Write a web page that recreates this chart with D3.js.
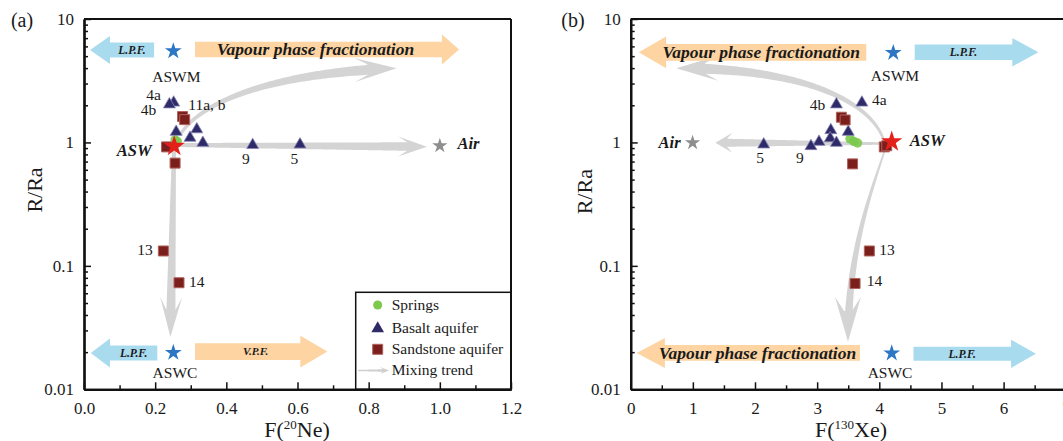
<!DOCTYPE html>
<html>
<head>
<meta charset="utf-8">
<script src="https://cdn.jsdelivr.net/npm/d3@7"></script>
<style>
  svg text { font-family: "Liberation Serif"; }
</style>
</head>
<body style="margin:0">
<svg id="chart" width="1063" height="441" font-family="Liberation Serif"></svg>
<script>
// ---------------- data ----------------
const groups = ["Springs", "Basalt aquifer", "Sandstone aquifer", "Mixing trend"];
const yTicks = [0.01, 0.1, 1, 10];
const yTickLabels = ["0.01", "0.1", "1", "10"];
const neTicks = [0, 0.2, 0.4, 0.6, 0.8, 1.0, 1.2];
const neTickLabels = ["0.0", "0.2", "0.4", "0.6", "0.8", "1.0", "1.2"];
const xeTicks = [0, 1, 2, 3, 4, 5, 6, 7];
const xeTickLabels = ["0", "1", "2", "3", "4", "5", "6", "7"];

// (a) F(20Ne) against R/Ra, [F, R/Ra]
const neSprings   = [[0.256, 1.05], [0.262, 1.02]];
const neBasalt    = [[0.252, 2.14], [0.240, 2.07], [0.259, 1.24], [0.317, 1.30],
                     [0.298, 1.11], [0.334, 1.01], [0.474, 0.97], [0.607, 0.98]];
const neBasaltIds = ["4a", "4b", "", "", "", "", "9", "5"];
const neSandstone = [[0.277, 1.62], [0.283, 1.53], [0.232, 0.92], [0.256, 0.68],
                     [0.223, 0.132], [0.267, 0.073]];
const neSandstoneIds = ["11a, b", "", "", "", "13", "14"];

// (b) F(130Xe) against R/Ra
const xeSprings   = [[3.53, 1.07], [3.59, 1.02], [3.65, 0.99]];
const xeBasalt    = [[3.72, 2.14], [3.31, 2.07], [3.22, 1.28], [3.50, 1.24], [3.21, 1.10],
                     [3.31, 1.01], [3.03, 1.03], [2.90, 0.95], [2.14, 0.98]];
const xeBasaltIds = ["4a", "4b", "", "", "", "", "", "9", "5"];
const xeSandstone = [[3.39, 1.60], [3.45, 1.52], [4.08, 0.92], [4.12, 0.94],
                     [3.57, 0.67], [3.84, 0.132], [3.61, 0.072]];
const xeSandstoneIds = ["", "", "", "", "", "13", "14"];

// end members
const endNames = ["ASWM", "ASWC", "ASW", "Air"];
const neEnd = [[0.251, 5.5], [0.251, 0.0198], [0.2535, 0.93], [1.0, 0.94]];
const xeEnd = [[4.225, 5.33], [4.20, 0.0196], [4.20, 1.014], [0.996, 0.995]];

// ---------------- layout & style ----------------
const FACE = "Liberation Serif";
const svg = d3.select("#chart");
const Y_TOP = 19, Y_BOT = 389.3;
const C = {
  axis: "#111", trend: "#d4d4d4", blue: "#a9dbef", orange: "#fdd4a2",
  tri: "#2f2b68", triEdge: "#8784b6", sq: "#7b1f1c", sqEdge: "#b0625c",
  spring: "#7cc94e", star: "#2d76c4", asw: "#e4201b", air: "#8e8e8e"
};

const panels = [
  {
    key: "a", label: "(a)", labelPos: [22, 27],
    xRange: [84, 511], xDomain: [0, 1.2], ticks: neTicks, tickLabels: neTickLabels,
    minor: d3.range(0.1, 1.2, 0.2), titleIso: "20", titleEl: "Ne)", titleX: 297, yTitle: [34, 190],
    springs: neSprings, basalt: neBasalt, basaltIds: neBasaltIds,
    sand: neSandstone, sandIds: neSandstoneIds, end: neEnd, legend: true,
    // mixing trends: control points in data space, widths in px
    trends: [
      { pts: [[0.270, 1.149], [0.312, 1.831], [0.4665, 3.583], [0.8785, 3.988]], w: [3, 10], head: [42, 12] },
      { pts: [[0.264, 0.953], [0.964, 0.924]], w: [4, 8.5], head: [29, 10] },
      { pts: [[0.2529, 0.869], [0.2428, 0.02653]], w: [4, 9], head: [40, 11] }
    ],
    bands: [
      { tip: 0.017, base: 0.073, end: 0.197, r: 5.6,   body: 15,   head: 28, fill: C.blue,   text: "L.P.F.", size: 11.5 },
      { tip: 1.054, base: 1.006, end: 0.312, r: 5.66,  body: 15.6, head: 30, fill: C.orange, text: "Vapour phase fractionation", size: 17.5, dx: -3 },
      { tip: 0.019, base: 0.073, end: 0.206, r: 0.0197, body: 15,  head: 29, fill: C.blue,   text: "L.P.F.", size: 11.5 },
      { tip: 0.684, base: 0.608, end: 0.312, r: 0.0202, body: 16.7, head: 31.6, fill: C.orange, text: "V.P.F.", size: 11, dx: 8 }
    ],
    ptLabels: {
      "4a": [-20, -7, "middle"], "4b": [-21, 6.6, "middle"], "11a, b": [5.7, -11.6, "start"],
      "9": [-6.7, 15, "middle"], "5": [-5.7, 15.5, "middle"], "13": [-18.3, -1, "middle"], "14": [17.7, -1, "middle"]
    },
    endLabels: [[3, 25.7, "middle"], [1.7, 19.6, "middle"], [-40, 3.6, "middle"], [17.6, -2.4, "start"]]
  },
  {
    key: "b", label: "(b)", labelPos: [573, 27],
    xRange: [630.7, 630.7 + 7 * 62.15], xDomain: [0, 7], ticks: xeTicks, tickLabels: xeTickLabels,
    minor: d3.range(0.5, 7, 1), titleIso: "130", titleEl: "Xe)", titleX: 851, yTitle: [584.5, 191.7],
    springs: xeSprings, basalt: xeBasalt, basaltIds: xeBasaltIds,
    sand: xeSandstone, sandIds: xeSandstoneIds, end: xeEnd, legend: false,
    trends: [
      { pts: [[4.071, 1.046], [3.850, 2.207], [2.724, 4.009], [0.7337, 3.988]], w: [2.5, 10], head: [42, 12.5] },
      { pts: [[4.012, 0.98], [1.363, 0.995]], w: [2.5, 8], head: [17, 10] },
      { pts: [[4.098, 0.896], [3.882, 0.4117], [3.496, 0.1344], [3.496, 0.02429]], w: [1.5, 7.5], head: [45, 13] }
    ],
    bands: [
      { tip: 0.13,  base: 0.57, end: 3.79, r: 5.37,   body: 16.7, head: 31.6, fill: C.orange, text: "Vapour phase fractionation", size: 17.5, dx: -5 },
      { tip: 6.56,  base: 6.14, end: 4.57, r: 5.38,   body: 15.7, head: 28.4, fill: C.blue,   text: "L.P.F.", size: 11.5 },
      { tip: 0.097, base: 0.55, end: 3.69, r: 0.0197, body: 15.7, head: 30,   fill: C.orange, text: "Vapour phase fractionation", size: 17.5, dx: -5 },
      { tip: 6.52,  base: 6.12, end: 4.55, r: 0.0194, body: 14,   head: 28.3, fill: C.blue,   text: "L.P.F.", size: 11.5 }
    ],
    ptLabels: {
      "4a": [10, -1.7, "start"], "4b": [-19, 1.6, "middle"], "9": [-11, 12, "middle"],
      "5": [-3.7, 13.8, "middle"], "13": [17.6, -1, "middle"], "14": [19.5, -3.4, "middle"]
    },
    endLabels: [[1.7, 23, "middle"], [-1.7, 19, "middle"], [18, -1.7, "start"], [-23, 0, "middle"]]
  }
];

// ---------------- helpers ----------------
function cubic(p0, p1, p2, p3, t) {
  const u = 1 - t;
  return [
    u*u*u*p0[0] + 3*u*u*t*p1[0] + 3*u*t*t*p2[0] + t*t*t*p3[0],
    u*u*u*p0[1] + 3*u*u*t*p1[1] + 3*u*t*t*p2[1] + t*t*t*p3[1]
  ];
}

// Tapered, curved arrow with a notched head, built as one filled outline.
function trendPath(P, w0, w1, headLen, headHW) {
  let p0, p1, p2, p3;
  if (P.length === 2) {
    p0 = P[0]; p3 = P[1];
    p1 = [p0[0] + (p3[0]-p0[0])/3, p0[1] + (p3[1]-p0[1])/3];
    p2 = [p0[0] + 2*(p3[0]-p0[0])/3, p0[1] + 2*(p3[1]-p0[1])/3];
  } else { [p0, p1, p2, p3] = P; }
  const N = 120, s = [], L = [0];
  for (let i = 0; i <= N; i++) s.push(cubic(p0, p1, p2, p3, i / N));
  for (let i = 1; i <= N; i++) L.push(L[i-1] + Math.hypot(s[i][0]-s[i-1][0], s[i][1]-s[i-1][1]));
  const total = L[N];
  let dx = p3[0]-p2[0], dy = p3[1]-p2[1];
  const dl = Math.hypot(dx, dy); dx /= dl; dy /= dl;
  const nx = -dy, ny = dx;
  const notch = 0.32;
  const stop = total - headLen * (1 - notch);
  const left = [], right = [];
  for (let i = 0; i <= N; i++) {
    if (L[i] > stop) break;
    const a = s[Math.max(0, i-1)], b = s[Math.min(N, i+1)];
    let tx = b[0]-a[0], ty = b[1]-a[1];
    const tl = Math.hypot(tx, ty) || 1; tx /= tl; ty /= tl;
    const w = (w0 + (w1 - w0) * L[i] / stop) / 2;
    left.push([s[i][0] - ty*w, s[i][1] + tx*w]);
    right.push([s[i][0] + ty*w, s[i][1] - tx*w]);
  }
  const T = p3;
  const B = [T[0] - dx*headLen, T[1] - dy*headLen];
  const Nc = [T[0] - dx*headLen*(1-notch), T[1] - dy*headLen*(1-notch)];
  const pts = [
    ...left,
    [Nc[0] + nx*w1/2, Nc[1] + ny*w1/2],
    [B[0] + nx*headHW, B[1] + ny*headHW],
    T,
    [B[0] - nx*headHW, B[1] - ny*headHW],
    [Nc[0] - nx*w1/2, Nc[1] - ny*w1/2],
    ...right.reverse()
  ];
  return "M" + pts.map(p => p[0].toFixed(2) + "," + p[1].toFixed(2)).join("L") + "Z";
}

// text element in the serif face
function label(g, xp, yp, str, size, anchor) {
  return g.append("text").attr("x", xp).attr("y", yp)
    .attr("font-family", FACE).style("font-family", `"${FACE}"`)
    .attr("font-size", size).style("font-size", size + "px")
    .attr("fill", "#1a1a1a").attr("text-anchor", anchor || "start").text(str);
}

// Broad block arrow (body + triangular head) with a caption.
function bandArrow(g, x, y, b) {
  const xt = x(b.tip), xb = x(b.base), xe = x(b.end), yc = y(b.r);
  const hb = b.body / 2, hh = b.head / 2;
  const pts = [[xe, yc-hb], [xb, yc-hb], [xb, yc-hh], [xt, yc], [xb, yc+hh], [xb, yc+hb], [xe, yc+hb]];
  g.append("path").attr("d", "M" + pts.map(p => p.join(",")).join("L") + "Z").attr("fill", b.fill);
  label(g, (xb + xe) / 2 + (b.dx || 0), yc, b.text, b.size, "middle")
    .attr("dy", "0.33em").attr("font-weight", "bold").attr("font-style", "italic");
}

const sym = (type, size) => d3.symbol().type(type).size(size)();

// ---------------- draw ----------------
const y = d3.scaleLog().domain([0.01, 10]).range([Y_BOT, Y_TOP]);
const yMinor = [];
[0.01, 0.1, 1].forEach(k => d3.range(2, 10).forEach(m => yMinor.push(m * k)));

panels.forEach(P => {
  const x = d3.scaleLinear().domain(P.xDomain).range(P.xRange);
  const g = svg.append("g");
  const X0 = P.xRange[0], X1 = P.xRange[1];

  // mixing trends
  P.trends.forEach(t => {
    const pix = t.pts.map(d => [x(d[0]), y(d[1])]);
    g.append("path").attr("d", trendPath(pix, t.w[0], t.w[1], t.head[0], t.head[1])).attr("fill", C.trend);
  });

  // fractionation bands
  P.bands.forEach(b => bandArrow(g, x, y, b));

  // legend
  if (P.legend) {
    const lg = g.append("g");
    lg.append("rect").attr("x", 355.7).attr("y", 292.3).attr("width", X1 - 355.7).attr("height", Y_BOT - 292.3)
      .attr("fill", "#fff").attr("stroke", C.axis).attr("stroke-width", 1.5);
    const rows = [305, 327.7, 349.3, 370.5];
    lg.append("path").attr("d", sym(d3.symbolCircle, 64)).attr("transform", `translate(377.7,${rows[0]})`).attr("fill", C.spring);
    lg.append("path").attr("d", sym(d3.symbolTriangle, 70)).attr("transform", `translate(377.7,${rows[1] + 1})`).attr("fill", C.tri);
    lg.append("path").attr("d", sym(d3.symbolSquare, 100)).attr("transform", `translate(377.7,${rows[2]})`)
      .attr("fill", C.sq).attr("stroke", C.sqEdge).attr("stroke-width", 1);
    lg.append("path").attr("d", trendPath([[358, rows[3]], [389, rows[3]]], 1.2, 2.5, 9, 3.5)).attr("fill", "#cfcfcf");
    groups.forEach((name, i) => label(lg, 391.7, rows[i], name, 15.5).attr("dy", "0.32em"));
  }

  // samples
  P.springs.forEach(d => g.append("path").attr("d", sym(d3.symbolCircle, 70))
    .attr("transform", `translate(${x(d[0])},${y(d[1])})`).attr("fill", C.spring).attr("fill-opacity", 0.9));
  P.sand.forEach(d => g.append("path").attr("d", sym(d3.symbolSquare, 100))
    .attr("transform", `translate(${x(d[0])},${y(d[1])})`)
    .attr("fill", C.sq).attr("stroke", C.sqEdge).attr("stroke-width", 1));
  P.basalt.forEach(d => g.append("path").attr("d", sym(d3.symbolTriangle, 62))
    .attr("transform", `translate(${x(d[0])},${y(d[1]) + 1})`)
    .attr("fill", C.tri).attr("stroke", C.triEdge).attr("stroke-width", 0.8));

  // end members
  const starStyle = [[C.star, 88], [C.star, 88], [C.asw, 140], [C.air, 72]];
  P.end.forEach((d, i) => g.append("path").attr("d", sym(d3.symbolStar, starStyle[i][1]))
    .attr("transform", `translate(${x(d[0])},${y(d[1])})`).attr("fill", starStyle[i][0]));

  // sample labels
  const labelAt = (d, id) => {
    if (!id) return;
    const o = P.ptLabels[id];
    label(g, x(d[0]) + o[0], y(d[1]) + o[1], id, 15.5, o[2]).attr("dy", "0.35em");
  };
  P.basalt.forEach((d, i) => labelAt(d, P.basaltIds[i]));
  P.sand.forEach((d, i) => labelAt(d, P.sandIds[i]));

  // end-member labels
  P.end.forEach((d, i) => {
    const o = P.endLabels[i];
    const t = label(g, x(d[0]) + o[0], y(d[1]) + o[1], endNames[i], i >= 2 ? 16.5 : 15.5, o[2]).attr("dy", "0.35em");
    if (i >= 2) t.attr("font-weight", "bold").attr("font-style", "italic");
  });

  // axes (ticks point inward)
  const axes = [
    g.append("g").attr("transform", `translate(0,${Y_BOT})`)
      .call(d3.axisBottom(x).tickValues(P.ticks).tickFormat((d, i) => P.tickLabels[i])
        .tickSizeInner(-7).tickSizeOuter(0).tickPadding(12.5)),
    g.append("g").attr("transform", `translate(0,${Y_BOT})`)
      .call(d3.axisBottom(x).tickValues(P.minor).tickFormat("").tickSizeInner(-4).tickSizeOuter(0)),
    g.append("g").attr("transform", `translate(${X0},0)`)
      .call(d3.axisLeft(y).tickValues(yTicks).tickFormat((d, i) => yTickLabels[i])
        .tickSizeInner(-7).tickSizeOuter(0).tickPadding(10)),
    g.append("g").attr("transform", `translate(${X0},0)`)
      .call(d3.axisLeft(y).tickValues(yMinor).tickFormat("").tickSizeInner(-4).tickSizeOuter(0))
  ];
  axes.forEach(a => a.attr("font-family", FACE).attr("font-size", 17));
  g.selectAll(".domain").attr("stroke", C.axis).attr("stroke-width", 2.2);
  g.selectAll(".tick line").attr("stroke", C.axis).attr("stroke-width", 1.5);
  g.selectAll(".tick text").attr("font-family", FACE).style("font-family", `"${FACE}"`)
    .style("font-size", "17px").attr("fill", "#1a1a1a");

  // frame top and right
  g.append("line").attr("x1", X0).attr("x2", X1).attr("y1", Y_TOP).attr("y2", Y_TOP).attr("stroke", C.axis).attr("stroke-width", 2);
  g.append("line").attr("x1", X1).attr("x2", X1).attr("y1", Y_TOP).attr("y2", Y_BOT).attr("stroke", C.axis).attr("stroke-width", 2);

  // titles
  const xt = label(g, P.titleX, 437, "", 22, "middle");
  xt.append("tspan").text("F(");
  xt.append("tspan").attr("dy", -8).attr("font-size", 13).style("font-size", "13px").text(P.titleIso);
  xt.append("tspan").attr("dy", 8).text(P.titleEl);
  label(g, 0, 0, "R/Ra", 22, "middle").attr("dy", "0.35em")
    .attr("transform", `translate(${P.yTitle[0]},${P.yTitle[1]}) rotate(-90)`);
  label(g, P.labelPos[0], P.labelPos[1], P.label, 20, "middle");
});
</script>
</body>
</html>
